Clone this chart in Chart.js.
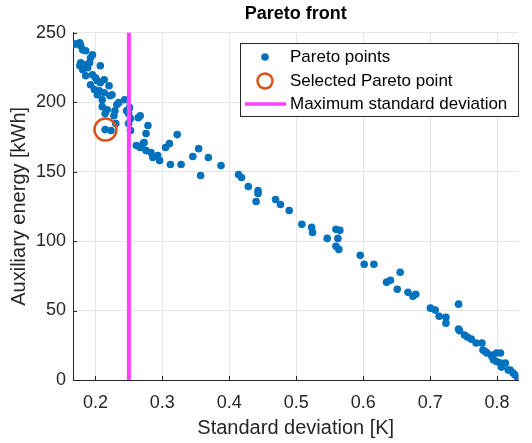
<!DOCTYPE html>
<html>
<head>
<meta charset="utf-8">
<script src="https://cdn.jsdelivr.net/npm/chart.js@4/dist/chart.umd.min.js"></script>
<style>
html, body { margin: 0; padding: 0; background: #fff; }
</style>
</head>
<body>
<canvas id="myChart" width="532" height="443"></canvas>
<script>
// Pareto points: standard deviation [K] and auxiliary energy [kWh]
var stdDev = [
	0.1665, 0.171, 0.1767, 0.178, 0.181, 0.1855, 0.1956, 0.1927, 0.178, 0.1767,
	0.184, 0.1913, 0.1884, 0.1811, 0.2073, 0.1855, 0.1956, 0.2, 0.1927, 0.2029,
	0.2073, 0.2131, 0.2204, 0.1985, 0.2058, 0.2029, 0.2131, 0.2247, 0.2102, 0.2218,
	0.2349, 0.2436, 0.232, 0.2102, 0.2175, 0.2291, 0.2509, 0.2465, 0.2145, 0.2276,
	0.2305, 0.2495, 0.2524, 0.2495, 0.2524, 0.264, 0.2669, 0.2785, 0.2756, 0.2611,
	0.2669, 0.2713, 0.2756, 0.2829, 0.2858, 0.2931, 0.296, 0.3047, 0.2145, 0.2233,
	0.2727, 0.312, 0.328, 0.3105, 0.3222, 0.3455, 0.3542, 0.3687, 0.3876, 0.3571,
	0.4138, 0.4182, 0.4284, 0.4429, 0.4429, 0.44, 0.4691, 0.4764, 0.4895, 0.5084,
	0.523, 0.5244, 0.5593, 0.5651, 0.5462, 0.5622, 0.5593, 0.5636, 0.5956, 0.6015,
	0.616, 0.6349, 0.6407, 0.6553, 0.6509, 0.6669, 0.6742, 0.6785, 0.7004, 0.7076,
	0.7135, 0.7236, 0.7425, 0.7236, 0.7425, 0.7513, 0.7556, 0.7615, 0.7687, 0.7774,
	0.7789, 0.7847, 0.792, 0.7993, 0.8051, 0.7949, 0.8051, 0.8124, 0.8065, 0.8196,
	0.824, 0.8269, 0.8313, 0.744, 0.7829, 0.7925, 0.7997, 0.8167
];
var auxEnergy = [
	241.2, 241.9, 242.6, 240.5, 237.6, 236.9, 234.0, 231.9, 228.3, 226.1,
	226.8, 228.3, 224.7, 223.3, 226.1, 219.0, 219.7, 217.5, 212.5, 215.4,
	213.9, 216.1, 211.8, 209.0, 208.2, 205.3, 206.7, 205.3, 201.7, 204.6,
	199.6, 201.7, 198.2, 196.7, 194.5, 193.8, 196.0, 193.8, 191.7, 190.2,
	184.5, 191.7, 188.1, 184.5, 179.5, 188.8, 190.2, 183.1, 177.3, 168.7,
	167.3, 170.2, 165.1, 163.7, 160.1, 161.5, 157.9, 167.3, 180.2, 179.5,
	170.9, 155.1, 155.1, 170.1, 176.6, 160.8, 166.5, 160.1, 154.3, 147.2,
	147.9, 145.7, 139.3, 136.4, 134.2, 128.5, 129.9, 126.3, 122.0, 112.0,
	109.8, 106.2, 108.4, 107.7, 101.9, 101.9, 96.2, 94.0, 89.7, 83.3,
	83.3, 70.4, 71.8, 77.5, 65.3, 63.2, 60.3, 61.7, 51.7, 50.3,
	45.9, 45.2, 54.6, 40.9, 36.6, 32.3, 30.9, 29.4, 26.6, 26.6,
	21.5, 19.4, 17.9, 19.4, 19.4, 14.4, 12.2, 12.2, 9.3, 7.2,
	5.0, 3.6, 0.7, 35.4, 20.3, 16.7, 13.1, 7.2
];

var selectedStd = [0.215];
var selectedAux = [180.2];
var maxStd = 0.25;

var xTicks = [0.2, 0.3, 0.4, 0.5, 0.6, 0.7, 0.8];
var yTicks = [0, 50, 100, 150, 200, 250];
var xMin = 0.1665, xMax = 0.832;
var yMin = 0, yMax = 250;

var paretoData = stdDev.map(function(v, i) { return {x: v, y: auxEnergy[i]}; });
var selectedData = selectedStd.map(function(v, i) { return {x: v, y: selectedAux[i]}; });

Chart.defaults.font.family = '"Liberation Sans", Arial, sans-serif';
Chart.defaults.color = '#262626';

// matlab style ticks pointing into the plot
var innerTicks = {
	id: 'innerTicks',
	afterDraw: function(chart) {
		var c = chart.ctx, a = chart.chartArea;
		var sx = chart.scales.x, sy = chart.scales.y;
		c.save();
		c.strokeStyle = '#262626';
		c.lineWidth = 1;
		c.beginPath();
		xTicks.forEach(function(v) {
			var px = Math.round(sx.getPixelForValue(v)) + 0.5;
			c.moveTo(px, a.bottom);
			c.lineTo(px, a.bottom - 4);
		});
		yTicks.forEach(function(v) {
			var py = Math.round(sy.getPixelForValue(v)) + 0.5;
			c.moveTo(a.left, py);
			c.lineTo(a.left + 4, py);
		});
		c.stroke();
		c.restore();
	}
};

var legendBox = {
	id: 'legendBox',
	afterDraw: function(chart) {
		var c = chart.ctx;
		var ds = chart.data.datasets;
		var x0 = 240, y0 = 43, w = 278, h = 73;
		var rows = [57, 81, 104];
		c.save();
		c.fillStyle = '#fff';
		c.fillRect(x0, y0, w, h);
		c.strokeStyle = '#262626';
		c.lineWidth = 1;
		c.strokeRect(x0 + 0.5, y0 + 0.5, w, h);

		c.fillStyle = '#0072BD';
		c.beginPath();
		c.arc(265, rows[0], 3.8, 0, Math.PI * 2);
		c.fill();

		c.strokeStyle = '#D95319';
		c.lineWidth = 2.5;
		c.beginPath();
		c.arc(265, rows[1], 7.5, 0, Math.PI * 2);
		c.stroke();

		c.strokeStyle = '#FF40FF';
		c.lineWidth = 3.5;
		c.beginPath();
		c.moveTo(245, rows[2]);
		c.lineTo(286, rows[2]);
		c.stroke();

		c.fillStyle = '#000';
		c.font = '17px "Liberation Sans", Arial, sans-serif';
		c.textBaseline = 'middle';
		c.textAlign = 'left';
		for (var i = 0; i < 3; i++) {
			c.fillText(ds[i].label, 290, rows[i]);
		}
		c.restore();
	}
};

var ctx = document.getElementById('myChart').getContext('2d');

var myChart = new Chart(ctx, {
	type: 'scatter',
	data: {
		datasets: [{
			label: 'Pareto points',
			data: paretoData,
			backgroundColor: '#0072BD',
			borderWidth: 0,
			pointRadius: 3.8,
			order: 3
		}, {
			label: 'Selected Pareto point',
			data: selectedData,
			backgroundColor: 'rgba(0,0,0,0)',
			borderColor: '#D95319',
			borderWidth: 2.5,
			pointRadius: 11,
			order: 2
		}, {
			label: 'Maximum standard deviation',
			type: 'line',
			data: [{x: maxStd, y: yMin}, {x: maxStd, y: yMax}],
			borderColor: '#FF40FF',
			borderWidth: 4,
			pointRadius: 0,
			order: 1
		}]
	},
	options: {
		responsive: false,
		animation: false,
		layout: { padding: { left: 0, right: 2, top: 0, bottom: 0 } },
		plugins: {
			legend: { display: false },
			tooltip: { enabled: false },
			title: {
				display: true,
				text: 'Pareto front',
				fullSize: false,
				color: '#000',
				font: { size: 18, weight: 'bold' },
				padding: { top: 3, bottom: 8 }
			}
		},
		scales: {
			x: {
				type: 'linear',
				min: xMin,
				max: xMax,
				afterBuildTicks: function(s) {
					s.ticks = xTicks.map(function(v) { return {value: v}; });
				},
				afterFit: function(s) { s.height = 63; },
				grid: { color: '#e6e6e6', drawTicks: false },
				border: { color: '#262626', width: 1 },
				ticks: {
					font: { size: 18 },
					padding: 12,
					maxRotation: 0,
					callback: function(v) { return v.toFixed(1); }
				},
				title: {
					display: true,
					text: 'Standard deviation [K]',
					font: { size: 20 },
					padding: { top: 0, bottom: 3 }
				}
			},
			y: {
				min: yMin,
				max: yMax,
				afterBuildTicks: function(s) {
					s.ticks = yTicks.map(function(v) { return {value: v}; });
				},
				afterFit: function(s) { s.width = 73; },
				grid: { color: '#e6e6e6', drawTicks: false },
				border: { color: '#262626', width: 1 },
				ticks: { font: { size: 18 }, padding: 7 },
				title: {
					display: true,
					text: 'Auxiliary energy [kWh]',
					font: { size: 20 },
					padding: { top: 7, bottom: 0 }
				}
			}
		}
	},
	plugins: [innerTicks, legendBox]
});
</script>
</body>
</html>
